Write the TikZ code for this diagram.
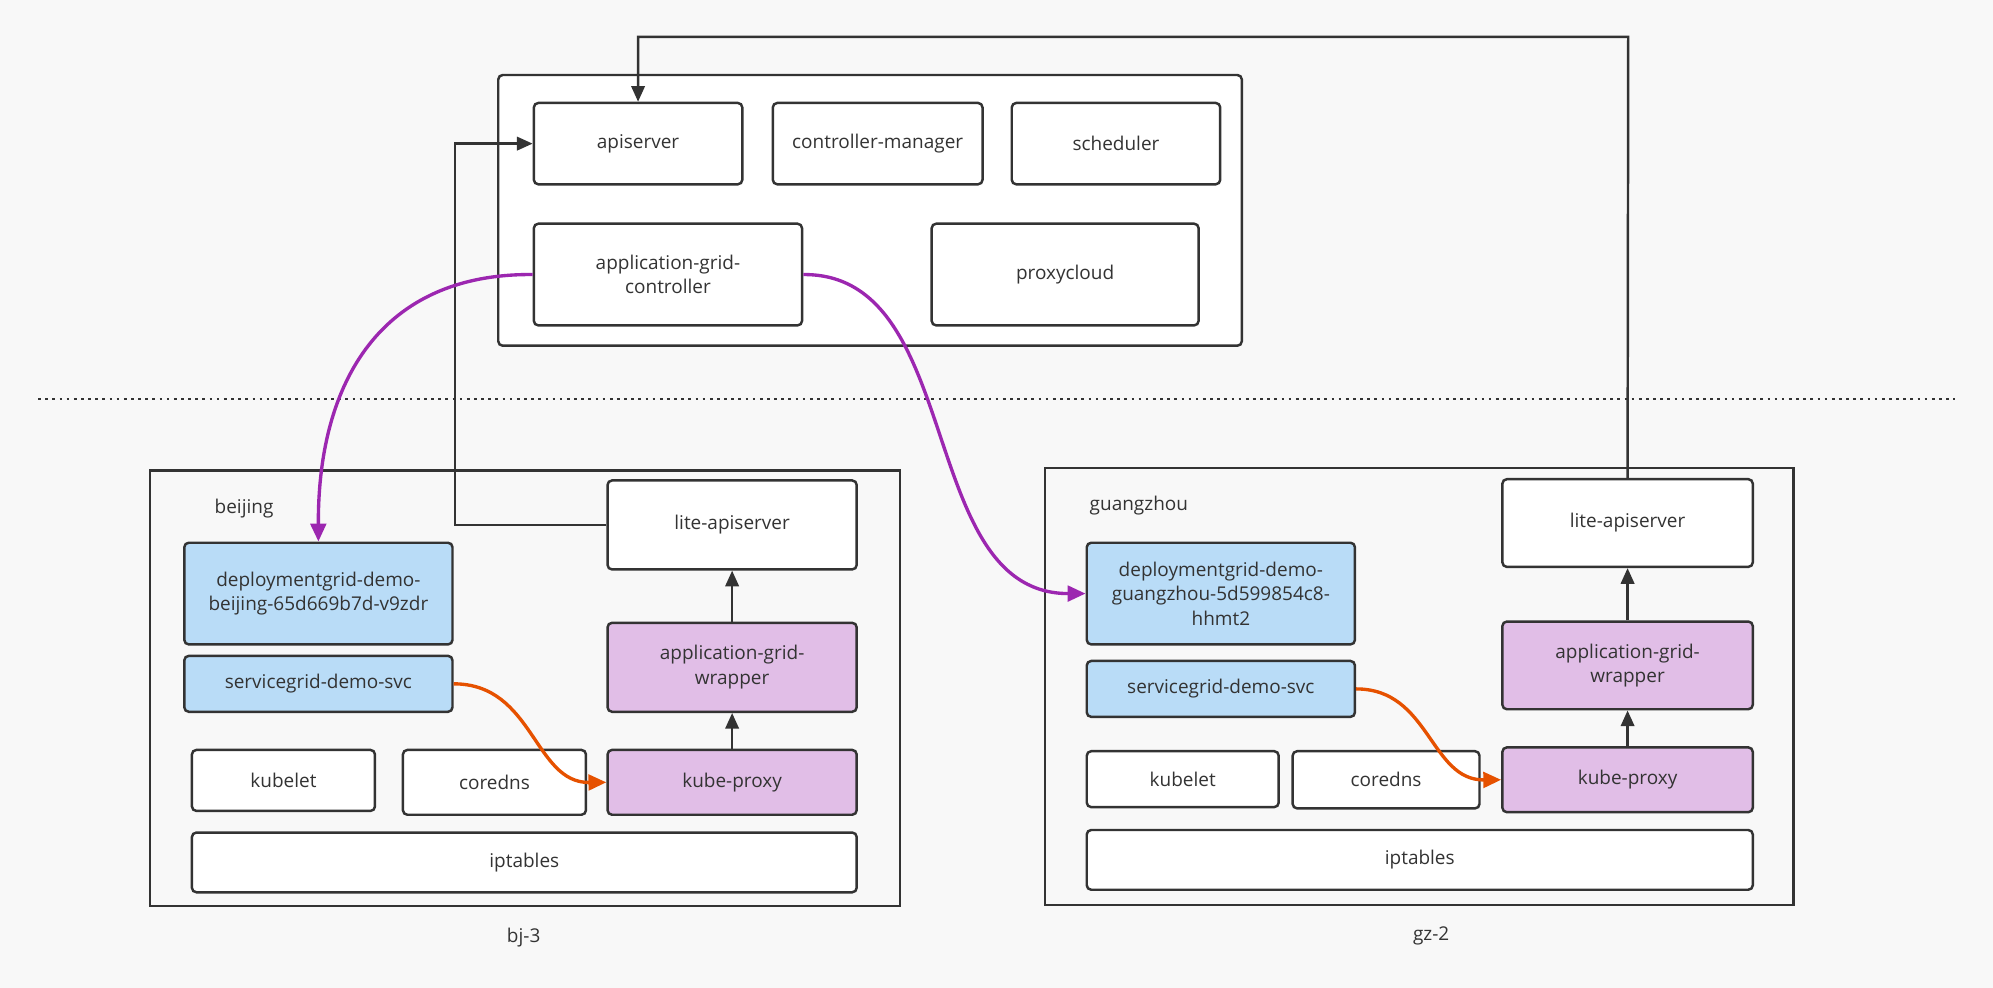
\documentclass[tikz,border=0pt]{standalone}
\usepackage{fontspec}
\setmainfont{Open Sans}
\usetikzlibrary{arrows.meta}
\definecolor{bg}{HTML}{F8F8F8}
\definecolor{edge}{HTML}{333333}
\definecolor{podblue}{HTML}{B9DCF7}
\definecolor{sysviolet}{HTML}{E1BEE7}
\definecolor{ctrlline}{HTML}{9C27B0}
\definecolor{svcline}{HTML}{E65100}
\tikzset{
  box/.style 2 args={draw=edge, line width=1.1pt, rounded corners=2pt, fill=white,
    minimum width=#1*0.02cm, minimum height=#2*0.02cm, inner sep=1pt,
    align=center, font=\fontsize{8.5}{11}\selectfont, text=edge},
  pod/.style={fill=podblue},
  sys/.style={fill=sysviolet},
  lbl/.style={font=\fontsize{8.5}{11}\selectfont, text=edge},
  link/.style={draw=edge, line width=1.1pt, -{Triangle[length=7pt,width=6pt]}},
  ctrl/.style={draw=ctrlline, line width=1.5pt, -{Triangle[length=8pt,width=7pt]}},
  svc/.style={draw=svcline, line width=1.5pt, -{Triangle[length=8pt,width=7pt]}}
}
\begin{document}
\begin{tikzpicture}[x=0.02cm, y=-0.02cm]
\fill[bg] (0,0) rectangle (1568,777);
\useasboundingbox (0,0) rectangle (1568,777);
% cloud side
\node[box={585}{213}] (cloud) at (684.5,165.5) {};
\node[box={164}{64}] (api) at (502,113) {apiserver};
\node[box={165}{64}] (cm) at (690.5,113) {controller-manager};
\node[box={164}{64}] (sched) at (878,113) {scheduler};
\node[box={211}{80}] (agc) at (525.5,216) {application-grid-\\controller};
\node[box={210}{80}] (pcloud) at (838,216) {proxycloud};
\draw[edge, line width=1.2pt, dotted] (30,314) -- (1538,314);
% beijing
\node[box={590}{343}, rounded corners=0pt, fill=none] (bj) at (413,541.5) {};
\node[lbl] (bjname) at (192,400) {beijing};
\node[lbl] (bjsite) at (412,738) {bj-3};
\node[box={196}{70}] (bjlite) at (576,413) {lite-apiserver};
\node[box={211}{80}, pod] (bjdep) at (250.5,467) {deploymentgrid-demo-\\beijing-65d669b7d-v9zdr};
\node[box={211}{44}, pod] (bjsvc) at (250.5,538) {servicegrid-demo-svc};
\node[box={196}{70}, sys] (bjagw) at (576,525) {application-grid-\\wrapper};
\node[box={144}{48}] (bjkubelet) at (223,614) {kubelet};
\node[box={144}{51}] (bjdns) at (389,615.5) {coredns};
\node[box={196}{51}, sys] (bjkp) at (576,615.5) {kube-proxy};
\node[box={523}{47}] (bjipt) at (412.5,678.5) {iptables};
% guangzhou
\node[box={589}{344}, rounded corners=0pt, fill=none] (gz) at (1116.5,540) {};
\node[lbl] (gzname) at (896,398) {guangzhou};
\node[lbl] (gzsite) at (1126,736) {gz-2};
\node[box={197}{69}] (gzlite) at (1280.5,411.5) {lite-apiserver};
\node[box={211}{80}, pod] (gzdep) at (960.5,467) {deploymentgrid-demo-\\guangzhou-5d599854c8-\\hhmt2};
\node[box={211}{44}, pod] (gzsvc) at (960.5,542) {servicegrid-demo-svc};
\node[box={197}{69}, sys] (gzagw) at (1280.5,523.5) {application-grid-\\wrapper};
\node[box={151}{44}] (gzkubelet) at (930.5,613) {kubelet};
\node[box={147}{45}] (gzdns) at (1090.5,613.5) {coredns};
\node[box={197}{51}, sys] (gzkp) at (1280.5,613.5) {kube-proxy};
\node[box={524}{47}] (gzipt) at (1117,676.5) {iptables};
% links
\draw[link] (bjlite.west) -- (358,413) -- (358,113) -- (api.west);
\draw[link] (gzlite.north) -- (1281,29) -- (502,29) -- (api.north);
\draw[link] (bjagw.north) -- (bjlite.south);
\draw[link] (bjkp.north) -- (bjagw.south);
\draw[link] (gzagw.north) -- (gzlite.south);
\draw[link] (gzkp.north) -- (gzagw.south);
\draw[svc] (bjsvc.east) .. controls (420,538) and (420,616) .. (bjkp.west);
\draw[svc] (gzsvc.east) .. controls (1125,542) and (1125,614) .. (gzkp.west);
\draw[ctrl] (agc.west) .. controls (300,215) and (250,300) .. (bjdep.north);
\draw[ctrl] (agc.east) .. controls (760,215) and (720,467) .. (gzdep.west);
\end{tikzpicture}
\end{document}
